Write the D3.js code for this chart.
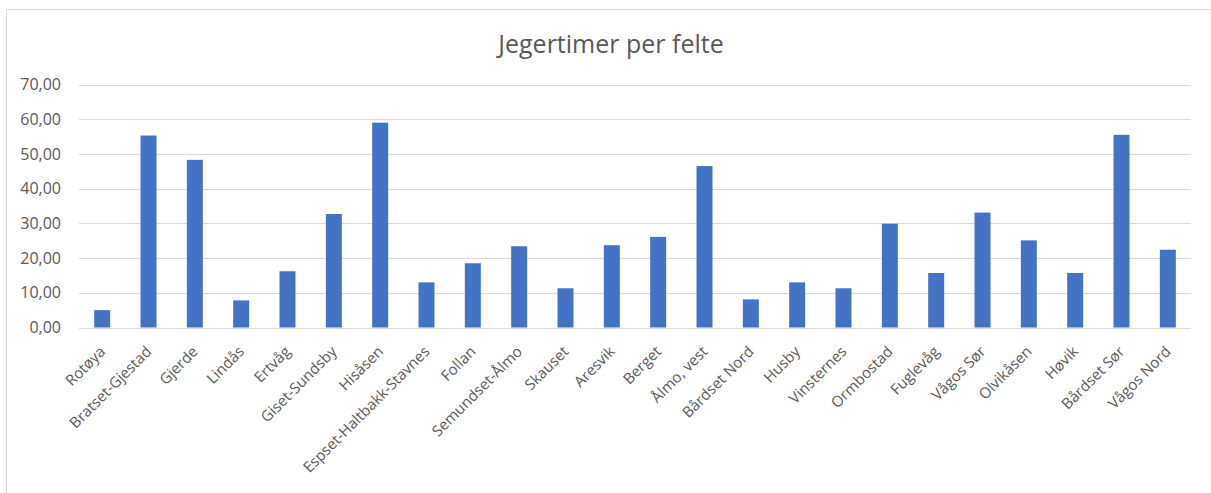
<!DOCTYPE html>
<html>
<head>
<meta charset="utf-8">
<script src="https://cdn.jsdelivr.net/npm/d3@7"></script>
<style>
  body { margin: 0; background: #fff; }
  text { font-family: "Open Sans", "Noto Sans", sans-serif; fill: #595959; }
</style>
</head>
<body>
<script>
var felt = ["Rotøya", "Bratset-Gjestad", "Gjerde", "Lindås", "Ertvåg", "Giset-Sundsby",
  "Hisåsen", "Espset-Haltbakk-Stavnes", "Follan", "Semundset-Ålmo", "Skauset", "Aresvik",
  "Berget", "Ålmo, vest", "Bårdset Nord", "Husby", "Vinsternes", "Ormbostad", "Fuglevåg",
  "Vågos Sør", "Olvikåsen", "Høvik", "Bårdset Sør", "Vågos Nord"];
var timer = [5.0, 55.3, 48.3, 7.8, 16.2, 32.7, 59.0, 13.0, 18.5, 23.4, 11.3, 23.7,
  26.1, 46.5, 8.1, 13.0, 11.3, 29.9, 15.7, 33.1, 25.1, 15.7, 55.5, 22.4];
var yTicks = [0, 10, 20, 30, 40, 50, 60, 70];
var tittel = "Jegertimer per felte";

var width = 1211, height = 493;
var plotLeft = 79, plotRight = 1191, plotTop = 84.5, plotBottom = 327.5;

var no = d3.formatLocale({decimal: ",", thousands: " ", grouping: [3], currency: ["", " kr"]});
var fmt = no.format(".2f");

var svg = d3.select("body").append("svg")
  .attr("width", width)
  .attr("height", height);

// chart area border
svg.append("rect")
  .attr("x", 6.5).attr("y", 9.5)
  .attr("width", width + 10).attr("height", height + 10)
  .attr("fill", "#fff")
  .attr("stroke", "#d9d9d9");

var x = d3.scaleBand()
  .domain(felt)
  .range([plotLeft, plotRight])
  .paddingInner(0.655)
  .paddingOuter(0.3275);

var y = d3.scaleLinear()
  .domain([0, 70])
  .range([plotBottom, plotTop]);

// gridlines
svg.append("g").selectAll("line")
  .data(yTicks).enter()
  .append("line")
  .attr("x1", plotLeft).attr("x2", plotRight)
  .attr("y1", function(d){ return Math.round(y(d)) + 0.5; })
  .attr("y2", function(d){ return Math.round(y(d)) + 0.5; })
  .attr("stroke", "#d9d9d9")
  .attr("stroke-width", 1);

// y axis labels
var yAxis = d3.axisLeft(y).tickValues(yTicks).tickFormat(fmt).tickSize(0).tickPadding(18);
var gy = svg.append("g").attr("transform", "translate(" + plotLeft + ",0)").call(yAxis);
gy.select(".domain").remove();
gy.selectAll("text").attr("font-size", "16px").attr("font-family", null).style("fill", "#595959");

// bars
svg.append("g").selectAll("rect")
  .data(felt).enter()
  .append("rect")
  .attr("x", function(d){ return x(d); })
  .attr("width", x.bandwidth())
  .attr("y", function(d, i){ return y(timer[i]); })
  .attr("height", function(d, i){ return y(0) - y(timer[i]); })
  .attr("fill", "#4472c4");

// x axis labels
var xAxis = d3.axisBottom(x).tickSize(0).tickPadding(0);
var gx = svg.append("g").attr("transform", "translate(0," + plotBottom + ")").call(xAxis);
gx.select(".domain").remove();
gx.selectAll("text")
  .attr("font-size", "15px")
  .attr("font-family", null)
  .attr("text-anchor", "end")
  .attr("dy", 0)
  .attr("transform", "translate(4,25) rotate(-45)")
  .style("fill", "#595959");

// title
svg.append("text")
  .attr("x", 611).attr("y", 53)
  .attr("text-anchor", "middle")
  .attr("font-size", "25px")
  .text(tittel);
</script>
</body>
</html>
